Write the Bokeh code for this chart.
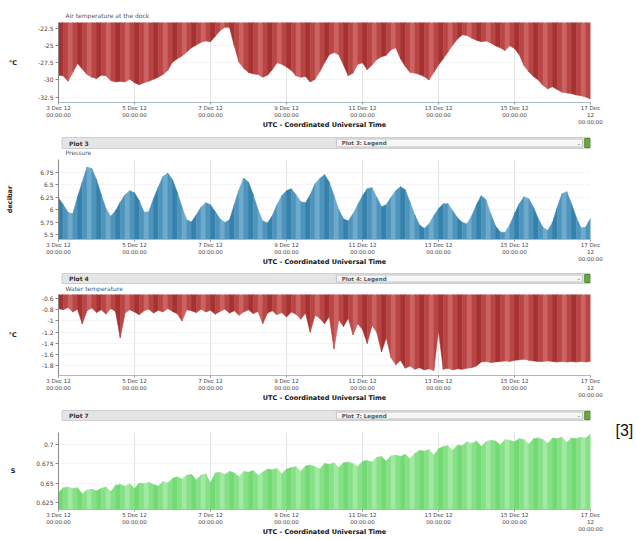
import pandas as pd
from bokeh.plotting import figure
from bokeh.layouts import column, row
from bokeh.models import Range1d, FixedTicker, NumeralTickFormatter, ColumnDataSource
from bokeh.core.properties import value
from bokeh.embed import file_html
from bokeh.resources import INLINE

# ---------------- data (3-hourly samples from 3 Dec 2012 00:00 UTC) ----------------
START = pd.Timestamp("2012-12-03 00:00")
STEP = pd.Timedelta(hours=3)

air_temp = [-29.3, -29.4, -30.2, -28.9, -27.6, -28.4, -29.2, -29.6, -29.8, -29.3,
            -29.4, -30.1, -30.3, -30.2, -30.3, -29.9, -30.4, -30.7, -30.4, -30.2,
            -29.9, -29.6, -29.2, -28.6, -27.4, -26.9, -26.5, -25.9, -25.3, -24.9,
            -24.5, -24.3, -24.4, -23.6, -22.8, -22.3, -22.3, -25.0, -27.4, -28.3,
            -28.9, -29.1, -29.2, -29.6, -29.3, -28.5, -27.5, -27.7, -28.1, -28.6,
            -29.4, -29.6, -29.5, -30.3, -29.9, -28.8, -27.5, -26.3, -26.0, -26.3,
            -27.8, -29.4, -29.0, -27.7, -27.5, -28.5, -27.8, -27.0, -26.6, -26.4,
            -25.6, -25.3, -26.9, -28.0, -28.9, -29.0, -29.2, -29.5, -30.0, -28.9,
            -27.8, -26.9, -25.9, -24.9, -24.0, -23.4, -23.5, -23.9, -24.2, -24.4,
            -24.3, -24.6, -25.0, -25.3, -25.7, -25.0, -25.4, -26.3, -27.9, -28.8,
            -29.5, -30.0, -30.8, -31.3, -31.0, -31.4, -31.8, -31.9, -32.0, -32.2,
            -32.3, -32.5, -32.8]

pressure = [6.24, 6.10, 5.95, 5.92, 6.25, 6.55, 6.85, 6.82, 6.60, 6.30,
            6.02, 5.87, 5.98, 6.15, 6.30, 6.38, 6.34, 6.18, 5.95, 5.96,
            6.22, 6.45, 6.66, 6.73, 6.60, 6.35, 6.05, 5.80, 5.76, 5.90,
            6.05, 6.14, 6.10, 5.96, 5.82, 5.75, 5.80, 6.10, 6.40, 6.63,
            6.55, 6.30, 6.00, 5.78, 5.74, 5.88, 6.10, 6.28, 6.38, 6.42,
            6.30, 6.16, 6.14, 6.30, 6.52, 6.62, 6.70, 6.55, 6.28, 6.00,
            5.82, 5.78, 5.92, 6.10, 6.28, 6.42, 6.44, 6.25, 6.06, 6.10,
            6.25, 6.38, 6.46, 6.40, 6.15, 5.90, 5.70, 5.63, 5.72, 5.88,
            6.02, 6.12, 6.12, 5.98, 5.84, 5.75, 5.72, 5.88, 6.10, 6.28,
            6.20, 5.92, 5.68, 5.56, 5.55, 5.70, 5.92, 6.12, 6.26, 6.22,
            6.05, 5.82, 5.65, 5.59, 5.75, 6.05, 6.32, 6.36, 6.12, 5.85,
            5.64, 5.66, 5.83]

water_temp = [-0.78, -0.80, -0.76, -0.84, -0.79, -1.05, -0.82, -0.77, -0.85, -0.80,
              -0.88, -0.78, -0.83, -1.30, -0.86, -0.80, -0.84, -0.89, -0.82, -0.79,
              -0.86, -0.81, -0.84, -0.78, -0.83, -0.87, -1.00, -0.80, -0.82, -0.85,
              -0.79, -0.84, -0.81, -0.88, -0.83, -0.79, -0.86, -0.82, -0.90, -0.84,
              -0.80, -0.87, -0.83, -1.05, -0.86, -0.82, -0.89, -0.85, -0.93, -0.84,
              -0.88, -0.97, -0.86, -1.20, -0.90, -0.95, -1.05, -0.92, -1.50, -0.98,
              -1.10, -0.95, -1.25, -1.05, -1.15, -1.40, -1.08, -1.20, -1.55, -1.30,
              -1.65, -1.78, -1.70, -1.84, -1.80, -1.86, -1.83, -1.87, -1.85, -1.88,
              -1.17, -1.86, -1.84, -1.87, -1.85, -1.86, -1.84, -1.83, -1.80, -1.73,
              -1.72, -1.74, -1.73, -1.72, -1.71, -1.72, -1.70, -1.69, -1.68, -1.70,
              -1.71, -1.72, -1.72, -1.71, -1.72, -1.73, -1.72, -1.73, -1.72, -1.73,
              -1.72, -1.73, -1.72]

plot7_values = [0.638, 0.644, 0.645, 0.643, 0.644, 0.636, 0.641, 0.642, 0.640, 0.643,
                0.645, 0.639, 0.647, 0.648, 0.646, 0.649, 0.643, 0.650, 0.649, 0.651,
                0.648, 0.646, 0.652, 0.650, 0.656, 0.658, 0.655, 0.660, 0.661, 0.654,
                0.660, 0.662, 0.650, 0.663, 0.664, 0.661, 0.665, 0.663, 0.658, 0.665,
                0.664, 0.666, 0.660, 0.664, 0.668, 0.667, 0.669, 0.662, 0.668, 0.670,
                0.671, 0.665, 0.672, 0.673, 0.671, 0.668, 0.675, 0.674, 0.676, 0.670,
                0.676, 0.677, 0.675, 0.671, 0.678, 0.679, 0.677, 0.683, 0.684, 0.678,
                0.685, 0.686, 0.684, 0.687, 0.681, 0.688, 0.692, 0.691, 0.693, 0.686,
                0.694, 0.697, 0.698, 0.692, 0.699, 0.698, 0.703, 0.701, 0.704, 0.697,
                0.703, 0.705, 0.704, 0.699, 0.706, 0.705, 0.703, 0.707, 0.706, 0.700,
                0.707, 0.708, 0.706, 0.701, 0.708, 0.707, 0.709, 0.702, 0.708, 0.707,
                0.709, 0.708, 0.713]

tick_dates = ["2012-12-03", "2012-12-05", "2012-12-07", "2012-12-09",
              "2012-12-11", "2012-12-13", "2012-12-15", "2012-12-17"]
tick_labels = ["3 Dec 12\n00:00:00", "5 Dec 12\n00:00:00", "7 Dec 12\n00:00:00",
               "9 Dec 12\n00:00:00", "11 Dec 12\n00:00:00", "13 Dec 12\n00:00:00",
               "15 Dec 12\n00:00:00", "17 Dec\n12\n00:00:00"]

air_ticks = [-32.5, -30, -27.5, -25, -22.5]
pressure_ticks = [5.5, 5.75, 6, 6.25, 6.5, 6.75]
water_ticks = [-1.8, -1.6, -1.4, -1.2, -1, -0.8, -0.6]
plot7_ticks = [0.625, 0.65, 0.675, 0.7]

# ---------------- styling ----------------
FONT = "DejaVu Sans"
W = 605          # panel width (frame from x=58 to x=590)
SIDE_W = 30
TOTAL_H = 538
# soft stripe cycle: dark, mid, light, mid
RED = ["#a63131", "#b94545", "#cc6262", "#b94545"]
BLUE = ["#3681ab", "#4e94bd", "#6eaacc", "#4e94bd"]
GREEN = ["#72da72", "#86e086", "#a2eaa2", "#86e086"]

tick_ms = [pd.Timestamp(d).value / 1e6 for d in tick_dates]


def stripes(vals, base, colors):
    t = [(START + i * STEP).value / 1e6 for i in range(len(vals))]
    xs, ys, cs = [], [], []
    for i in range(len(vals) - 1):
        xs.append([t[i], t[i], t[i + 1], t[i + 1]])
        ys.append([base, vals[i], vals[i + 1], base])
        cs.append(colors[i % len(colors)])
    return ColumnDataSource(dict(xs=xs, ys=ys, c=cs))


def make_plot(h, vals, base, colors, yr, yticks, ylabel, ystandoff, orient):
    p = figure(width=W, height=h, x_axis_type="datetime",
               x_range=Range1d(tick_ms[0], tick_ms[-1]), y_range=Range1d(*yr),
               output_backend="svg", toolbar_location=None,
               min_border_left=58, min_border_right=15, min_border_top=1,
               min_border_bottom=23)
    p.outline_line_color = None
    p.background_fill_color = "white"
    p.border_fill_color = "white"
    p.patches("xs", "ys", source=stripes(vals, base, colors),
              fill_color="c", line_color="c", line_width=0.6)

    xa = p.xaxis[0]
    xa.ticker = FixedTicker(ticks=tick_ms)
    xa.major_label_overrides = {t: l for t, l in zip(tick_ms, tick_labels)}
    xa.axis_line_color = "#a9b9c9"
    xa.major_tick_line_color = "#999999"
    xa.major_tick_out = 2
    xa.major_tick_in = 0
    xa.minor_tick_line_color = None
    xa.major_label_standoff = 0
    xa.major_label_text_font = FONT
    xa.major_label_text_font_size = "5.5px"
    xa.major_label_text_color = "#444444"
    xa.axis_label = "UTC - Coordinated Universal Time"
    xa.axis_label_text_font = FONT
    xa.axis_label_text_font_size = "6.5px"
    xa.axis_label_text_font_style = "bold"
    xa.axis_label_text_color = "#111111"
    xa.axis_label_standoff = -7

    ya = p.yaxis[0]
    ya.ticker = FixedTicker(ticks=yticks)
    ya.formatter = NumeralTickFormatter(format="0.[000]")
    ya.axis_line_color = "#888888"
    ya.major_tick_line_color = "#888888"
    ya.major_tick_out = 3
    ya.major_tick_in = 0
    ya.minor_tick_line_color = None
    ya.major_label_standoff = 2
    ya.major_label_text_font = FONT
    ya.major_label_text_font_size = "6px"
    ya.major_label_text_color = "#444444"
    ya.axis_label = ylabel
    ya.axis_label_text_font = FONT
    ya.axis_label_text_font_size = "6.5px"
    ya.axis_label_text_font_style = "bold"
    ya.axis_label_text_color = "#222222"
    ya.axis_label_standoff = ystandoff
    ya.axis_label_orientation = orient

    p.xgrid.grid_line_color = "#e4e4e4"
    p.ygrid.grid_line_color = "#ececec"
    p.ygrid.grid_line_dash = "2 2"
    return p


def strip(h, bar=None, plot_name=None, legend=None, subtitle=None, sub_y=None):
    s = figure(width=W, height=h, x_range=Range1d(0, W), y_range=Range1d(h, 0),
               output_backend="svg", toolbar_location=None, min_border=0,
               x_axis_location=None, y_axis_location=None)
    s.grid.visible = False
    s.outline_line_color = None
    s.border_fill_color = "white"
    if bar:
        top, bot = bar
        mid = (top + bot) / 2
        s.quad(left=4, right=W, top=top, bottom=bot, fill_color="#e5e5e5", line_color="#cfcfcf")
        s.text(x=[12], y=[mid], text=[plot_name], text_font=value(FONT), text_font_size="6px",
               text_font_style="bold", text_baseline="middle", text_color="#333333")
        s.quad(left=316, right=596, top=top + 1.5, bottom=bot - 1.5,
               fill_color="#f6f6f6", line_color="#c4c4c4")
        s.text(x=[322], y=[mid], text=[legend], text_font=value(FONT), text_font_size="5.5px",
               text_font_style="bold", text_baseline="middle", text_color="#555555")
        s.text(x=[590], y=[mid], text=["\u2013"], text_font=value(FONT), text_font_size="6px",
               text_baseline="middle", text_color="#555555")
        s.quad(left=598.5, right=604.5, top=top + 1, bottom=bot - 1,
               fill_color="#6aaa3a", line_color="#4a8a2a")
    if subtitle:
        s.text(x=[8], y=[sub_y], text=[subtitle], text_font=value(FONT), text_font_size="6px",
               text_baseline="middle", text_color="#555555")
    return s


strip1 = strip(21, subtitle="Air temperature at the dock", sub_y=15)
fig1 = make_plot(110, air_temp, 0, RED, (-33.3, -21.6), air_ticks, "\u00b0C", 18, "horizontal")
strip2 = strip(27, bar=(6, 17), plot_name="Plot 3", legend="Plot 3: Legend",
               subtitle="Pressure", sub_y=21)
fig2 = make_plot(110, pressure, 0, BLUE, (5.41, 7.0), pressure_ticks, "decibar", 23, "parallel")
strip3 = strip(25, bar=(5, 15), plot_name="Plot 4", legend="Plot 4: Legend",
               subtitle="Water temperature", sub_y=20)
fig3 = make_plot(111, water_temp, 0, RED, (-1.97, -0.53), water_ticks, "\u00b0C", 22, "horizontal")
strip4 = strip(27, bar=(6, 16), plot_name="Plot 7", legend="Plot 7: Legend")
fig4 = make_plot(107, plot7_values, 0, GREEN, (0.616, 0.715), plot7_ticks, "S", 18, "horizontal")

side = figure(width=SIDE_W, height=TOTAL_H, x_range=Range1d(0, SIDE_W), y_range=Range1d(TOTAL_H, 0),
              output_backend="svg", toolbar_location=None, min_border=0,
              x_axis_location=None, y_axis_location=None)
side.grid.visible = False
side.outline_line_color = None
side.text(x=[10], y=[430], text=["[3]"], text_font=value("Liberation Sans"),
          text_font_size="16px", text_baseline="middle", text_color="#111111")

left = column(strip1, fig1, strip2, fig2, strip3, fig3, strip4, fig4)
layout = row(left, side)

open("out.html", "w").write(file_html(layout, INLINE))
